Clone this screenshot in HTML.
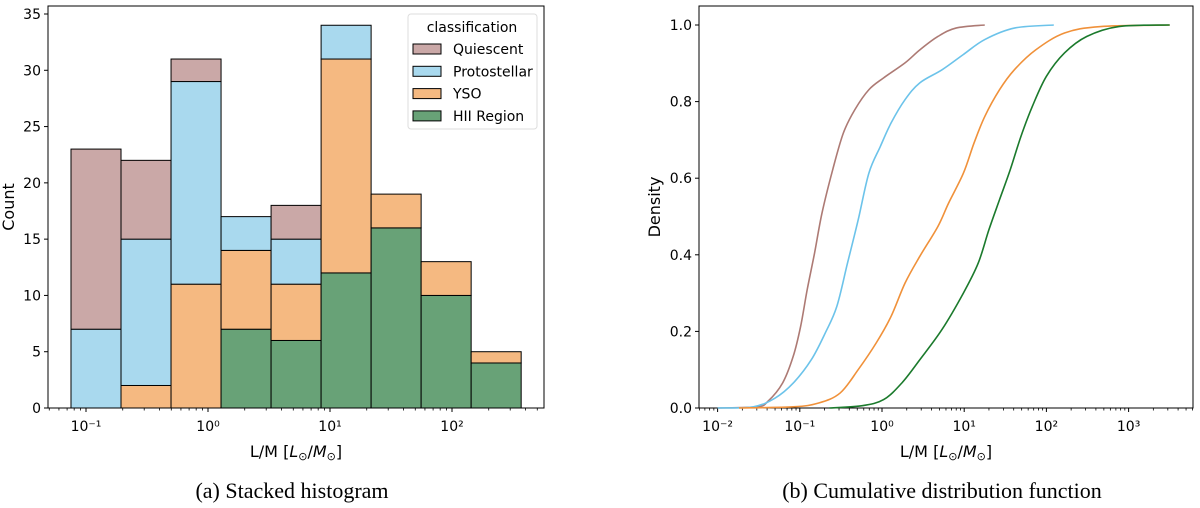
<!DOCTYPE html>
<html><head><meta charset="utf-8"><style>
body{margin:0;background:#fff;width:1200px;height:503px;overflow:hidden}
svg text{font-family:"DejaVu Sans","Liberation Sans",sans-serif;fill:#000}
.cap{font-family:"Liberation Serif",serif;font-size:22px}
</style></head><body>
<svg id="root" width="1200" height="503">
<g id="left"></g>
<g id="right"></g>
<text class="cap" x="292" y="498" text-anchor="middle">(a) Stacked histogram</text>
<text class="cap" x="942" y="498" text-anchor="middle">(b) Cumulative distribution function</text>
</svg>
<script>
// ---- Histogram data ----
const binEdgesLog = [-1.123,-0.713,-0.303,0.107,0.517,0.927,1.337,1.747,2.157,2.567];
const categories = ["Quiescent","Protostellar","YSO","HII Region"];
const hiiCounts = [0,0,0,7,6,12,16,10,4];
const ysoCounts = [0,2,11,7,5,19,3,3,1];
const protoCounts = [7,13,18,3,4,3,0,0,0];
const quiescentCounts = [16,7,2,0,3,0,0,0,0];
const yTicksLeft = [0,5,10,15,20,25,30,35];
const xTickExpLeft = [-1,0,1,2];
// ---- CDF data (log10 L/M, cumulative) ----
const qLogX=[-2.0,-1.52,-1.39,-1.21,-1.08,-0.99,-0.91,-0.82,-0.73,-0.6,-0.47,-0.33,-0.16,0.02,0.28,0.46,0.68,0.90,1.25];
const qY=[0,.003,.017,.065,.135,.213,.309,.405,.509,.622,.718,.779,.831,.862,.901,.935,.970,.992,1.0];
const pLogX=[-2.0,-1.57,-1.30,-1.08,-0.86,-0.69,-0.55,-0.42,-0.29,-0.16,-0.02,0.11,0.28,0.46,0.73,0.99,1.25,1.61,2.09];
const pY=[0,.003,.026,.065,.126,.196,.265,.378,.491,.613,.683,.744,.805,.849,.883,.923,.962,.992,1.0];
const yLogX=[-1.74,-1.08,-0.77,-0.51,-0.29,-0.07,0.11,0.28,0.46,0.68,0.81,0.99,1.12,1.25,1.43,1.61,1.87,2.22,2.66,3.50];
const ysY=[0,.003,.013,.039,.1,.170,.239,.326,.396,.474,.535,.613,.692,.761,.831,.883,.935,.979,.996,1.0];
const hLogX=[-0.64,-0.24,0.02,0.24,0.46,0.73,0.99,1.17,1.30,1.43,1.56,1.69,1.83,2.0,2.22,2.49,2.88,3.50];
const hY=[0,.006,.022,.065,.126,.205,.3,.378,.465,.544,.622,.709,.788,.866,.927,.97,.996,1.0];
const yTicksRight=[0,0.2,0.4,0.6,0.8,1.0];
const xTickExpRight=[-2,-1,0,1,2,3];

const NS="http://www.w3.org/2000/svg";
function mk(parent,tag,attrs,text){const e=document.createElementNS(NS,tag);for(const k in attrs)e.setAttribute(k,attrs[k]);if(text!==undefined)e.textContent=text;parent.appendChild(e);return e;}
const sup={"-":"\u207B","0":"\u2070","1":"\u00B9","2":"\u00B2","3":"\u00B3"};
function expLabel(n){return "10"+String(n).split("").map(c=>sup[c]).join("");}

function axisFrame(g,L,R,T,B,xs,ys,xExp,yTicks,yFmt,ylabel,ylx,minLog,maxLog){
  yTicks.forEach(v=>{const y=ys(v);
    const t=mk(g,"line",{x1:L-4,x2:L,y1:y,y2:y,stroke:"#000","stroke-width":1});
    
    const tx=mk(g,"text",{x:L-7,y:y+5,"text-anchor":"end","font-size":14},yFmt(v));
    });
  for(let d=Math.floor(minLog);d<=Math.ceil(maxLog);d++){for(let m=2;m<=9;m++){const lv=d+Math.log10(m);if(lv<minLog||lv>maxLog)continue;
    const t=mk(g,"line",{x1:xs(lv),x2:xs(lv),y1:B,y2:B+2.5,stroke:"#000","stroke-width":0.8});
    }}
  xExp.forEach(e=>{const x=xs(e);
    const t=mk(g,"line",{x1:x,x2:x,y1:B,y2:B+4,stroke:"#000","stroke-width":1});
    
    const tx=mk(g,"text",{x:x,y:B+23,"text-anchor":"middle","font-size":14},expLabel(e));
    });
  const fr=mk(g,"rect",{x:L,y:T,width:R-L,height:B-T,fill:"none",stroke:"#000","stroke-width":1});
  
  const xl=mk(g,"text",{x:(L+R)/2,y:B+49,"text-anchor":"middle","font-size":16});
  
  xl.innerHTML='L/M [<tspan font-style="italic">L</tspan><tspan font-size="11" dy="3">\u2299</tspan><tspan dy="-3">/</tspan><tspan font-style="italic">M</tspan><tspan font-size="11" dy="3">\u2299</tspan><tspan dy="-3">]</tspan>';
  const yl=mk(g,"text",{x:0,y:0,"text-anchor":"middle","font-size":16,transform:`translate(${ylx},${(T+B)/2}) rotate(-90)`},ylabel);
  
}

// ---- Left chart ----
(function(){
  const g=document.getElementById("left");
  const L=48,R=544,T=6,B=408;
  const xs=v=>208+v*122;
  const ys=v=>B-v*(B-14)/35;
  const fills=["#caa8a7","#a9d9ee","#f5b981","#68a277"];
  const series=[hiiCounts,ysoCounts,protoCounts,quiescentCounts];
  const sFill=[fills[3],fills[2],fills[1],fills[0]];
  const names=["bar-hii","bar-yso","bar-protostellar","bar-quiescent"];
  for(let i=0;i<binEdgesLog.length-1;i++){let base=0;
    series.forEach((s,k)=>{const v=s[i];if(v<=0)return;
      const r=mk(g,"rect",{x:xs(binEdgesLog[i]),y:ys(base+v),width:xs(binEdgesLog[i+1])-xs(binEdgesLog[i]),height:ys(base)-ys(base+v),fill:sFill[k],stroke:"#000","stroke-width":1});
      
      base+=v;});}
  axisFrame(g,L,R,T,B,xs,ys,xTickExpLeft,yTicksLeft,v=>String(v),"Count",14,-1.31,2.75);
  const lg=mk(g,"g",{});
  
  mk(lg,"rect",{x:408,y:14,width:129,height:115,rx:3,fill:"#fff","fill-opacity":0.85,stroke:"#ddd"});
  const tt=mk(lg,"text",{x:472,y:32,"text-anchor":"middle","font-size":14},"classification");
  
  categories.forEach((c,i)=>{const y=49+i*22.3;
    const p=mk(lg,"rect",{x:413,y:y-5,width:28,height:10,fill:fills[i],stroke:"#000","stroke-width":1});
    
    const t=mk(lg,"text",{x:453,y:y+5,"font-size":14},c);
    });
})();

// ---- Right chart ----
(function(){
  const g=document.getElementById("right");
  const L=699,R=1193,T=6,B=408;
  const xs=v=>882+v*82.2;
  const ys=v=>B-v*(B-25);
  axisFrame(g,L,R,T,B,xs,ys,xTickExpRight,yTicksRight,v=>v.toFixed(1),"Density",660,-2.23,3.78);
  const curves=[[qLogX,qY,"#ad7a74","cdf-quiescent"],[pLogX,pY,"#6cc3ea","cdf-protostellar"],[yLogX,ysY,"#f0913a","cdf-yso"],[hLogX,hY,"#1b7a2c","cdf-hii-region"]];
  curves.forEach(([lx,ly,col,nm])=>{
    const P=lx.map((v,i)=>[xs(v),ys(ly[i])]);
    let d=`M${P[0][0]},${P[0][1]}`;
    for(let i=0;i<P.length-1;i++){const p0=P[Math.max(0,i-1)],p1=P[i],p2=P[i+1],p3=P[Math.min(P.length-1,i+2)];
      const c1=[p1[0]+(p2[0]-p0[0])/6,p1[1]+(p2[1]-p0[1])/6],c2=[p2[0]-(p3[0]-p1[0])/6,p2[1]-(p3[1]-p1[1])/6];
      d+=` C${c1[0]},${c1[1]} ${c2[0]},${c2[1]} ${p2[0]},${p2[1]}`;}
    const pa=mk(g,"path",{d:d,fill:"none",stroke:col,"stroke-width":1.6});
    });
})();
</script>
</body></html>
